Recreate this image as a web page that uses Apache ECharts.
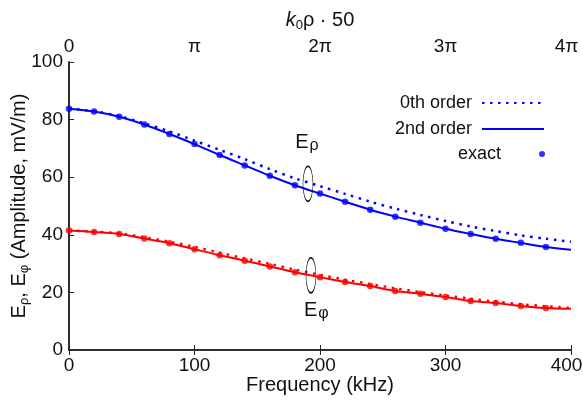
<!DOCTYPE html>
<html>
<head>
<meta charset="utf-8">
<script src="https://cdn.jsdelivr.net/npm/echarts@6/dist/echarts.min.js"></script>
<style>
  html, body { margin: 0; padding: 0; background: #fff; }
  #chart { width: 583px; height: 401px; }
</style>
</head>
<body>
<div id="chart"></div>
<script>
// frequency samples (kHz)
const freq = [0, 20, 40, 60, 80, 100, 120, 140, 160, 180, 200, 220, 240, 260, 280, 300, 320, 340, 360, 380];
const freqLine = [0, 20, 40, 60, 80, 100, 120, 140, 160, 180, 200, 220, 240, 260, 280, 300, 320, 340, 360, 380, 400];

// E rho
const rhoExact = [83.8, 82.8, 81.0, 78.3, 75.0, 71.5, 67.7, 64.1, 60.5, 57.2, 54.3, 51.5, 48.7, 46.3, 44.2, 42.1, 40.3, 38.6, 37.2, 35.8];
const rhoOrder2 = [83.8, 82.8, 81.0, 78.3, 75.0, 71.5, 67.7, 64.1, 60.5, 57.2, 54.3, 51.5, 48.7, 46.3, 44.2, 42.1, 40.3, 38.6, 37.2, 35.8, 34.8];
const rhoOrder0 = [83.8, 82.9, 81.2, 78.7, 75.9, 72.7, 69.5, 66.3, 62.8, 59.6, 56.9, 54.2, 51.5, 49.1, 46.9, 44.8, 42.9, 41.3, 39.8, 38.6, 37.6];

// E phi
const phiExact = [41.5, 41.0, 40.3, 38.7, 37.1, 35.0, 32.9, 31.0, 29.0, 27.0, 25.3, 23.6, 22.2, 20.5, 19.5, 18.4, 17.0, 16.3, 15.3, 14.6];
const phiOrder2 = [41.5, 41.0, 40.3, 38.7, 37.1, 35.0, 32.9, 31.0, 29.0, 27.0, 25.3, 23.6, 22.2, 20.5, 19.5, 18.4, 17.0, 16.3, 15.3, 14.6, 14.3];
const phiOrder0 = [41.5, 41.1, 40.5, 39.1, 37.6, 35.8, 33.8, 31.8, 29.9, 27.9, 26.1, 24.4, 22.9, 21.4, 20.1, 18.9, 17.8, 16.8, 15.9, 15.2, 14.6];

const topTickLabels = ['0', 'π', '2π', '3π', '4π'];

const FONT = '"Liberation Sans", Arial, Helvetica, sans-serif';
const BLUE = '#0000ff';
const RED = '#ff0000';

function pairs(xs, ys) {
    return ys.map((y, i) => [xs[i], y]);
}

// last tick label sits a bit left of its tick so it stays on the page
function edgeLabel(text, v) {
    return v >= 400 ? '{r|' + text + '}' : '{n|' + text + '}';
}

const tickRich = {
    n: { fontFamily: FONT, fontSize: 19, color: '#111' },
    r: { fontFamily: FONT, fontSize: 19, color: '#111', padding: [0, 9, 0, 0] }
};

const ellipsePath = 'path://M0,-1 A1,1 0 1,1 0,1 A1,1 0 1,1 0,-1 Z';

const chart = echarts.init(document.getElementById('chart'));

const legendCommon = {
    orient: 'vertical',
    align: 'right',
    right: 38,
    padding: 0,
    itemWidth: 62,
    itemHeight: 14,
    textStyle: {
        fontFamily: FONT,
        fontSize: 18,
        color: '#111',
        padding: [0, 5, 0, 0]
    }
};

const option = {
    animation: false,
    backgroundColor: '#fff',
    grid: {
        left: 69,
        right: 12,
        top: 62,
        bottom: 51,
        containLabel: false,
        outerBoundsMode: 'none'
    },
    legend: [
        Object.assign({}, legendCommon, { data: [{ name: '0th order', itemStyle: { opacity: 0 } }], top: 94 }),
        Object.assign({}, legendCommon, { data: [{ name: '2nd order', itemStyle: { opacity: 0 } }], top: 120 }),
        Object.assign({}, legendCommon, { data: [{ name: 'exact', icon: 'circle' }], top: 145, itemHeight: 6 })
    ],
    xAxis: [
        {
            type: 'value',
            position: 'bottom',
            min: 0,
            max: 400,
            interval: 100,
            name: 'Frequency (kHz)',
            nameLocation: 'middle',
            nameGap: 25,
            nameMoveOverlap: false,
            nameTextStyle: { fontFamily: FONT, fontSize: 20, color: '#111' },
            axisLine: { lineStyle: { color: '#222', width: 1.5 } },
            axisTick: { inside: true, length: 5, lineStyle: { color: '#222' } },
            axisLabel: {
                margin: 6,
                rich: tickRich,
                formatter: function (v) { return edgeLabel(String(v), v); }
            },
            splitLine: { show: false }
        },
        {
            type: 'value',
            position: 'top',
            min: 0,
            max: 400,
            interval: 100,
            name: '{k|k}{sub|0}{t|ρ · 50}',
            nameLocation: 'middle',
            nameGap: 30,
            nameMoveOverlap: false,
            nameTextStyle: {
                rich: {
                    k: { fontFamily: FONT, fontSize: 20, fontStyle: 'italic', color: '#111' },
                    sub: { fontFamily: FONT, fontSize: 13, color: '#111', verticalAlign: 'bottom', padding: [10, 0, 0, 0] },
                    t: { fontFamily: FONT, fontSize: 20, color: '#111' }
                }
            },
            axisLine: { lineStyle: { color: '#222', width: 1.5 } },
            axisTick: { inside: true, length: 5, lineStyle: { color: '#222' } },
            axisLabel: {
                margin: 6,
                rich: tickRich,
                formatter: function (v) { return edgeLabel(topTickLabels[Math.round(v / 100)], v); }
            },
            splitLine: { show: false }
        }
    ],
    yAxis: [
        {
            type: 'value',
            position: 'left',
            min: 0,
            max: 100,
            interval: 20,
            name: '{t|E}{s|ρ}{t|, E}{s|φ}{t| (Amplitude, mV/m)}',
            nameLocation: 'middle',
            nameGap: 38,
            nameMoveOverlap: false,
            nameTextStyle: {
                rich: {
                    t: { fontFamily: FONT, fontSize: 20, color: '#111' },
                    s: { fontFamily: FONT, fontSize: 13, color: '#111', verticalAlign: 'bottom', padding: [10, 0, 0, 0] }
                }
            },
            axisLine: { show: true, lineStyle: { color: '#222', width: 1.5 } },
            axisTick: { show: true, inside: true, length: 5, lineStyle: { color: '#222' } },
            axisLabel: { margin: 6, fontFamily: FONT, fontSize: 19, color: '#111' },
            splitLine: { show: false }
        },
        {
            type: 'value',
            position: 'right',
            min: 0,
            max: 100,
            axisLine: { show: true, lineStyle: { color: '#222', width: 1.5 } },
            axisTick: { show: false },
            axisLabel: { show: false },
            splitLine: { show: false }
        }
    ],
    series: [
        {
            name: '0th order',
            type: 'line',
            data: pairs(freqLine, rhoOrder0),
            smooth: 0.3,
            symbol: 'none',
            color: BLUE,
            lineStyle: { color: BLUE, width: 2.5, type: [2.5, 5.5] },
            markPoint: {
                silent: true,
                symbol: ellipsePath,
                symbolSize: [10, 35],
                itemStyle: { color: 'rgba(0,0,0,0)', borderColor: '#111', borderWidth: 1 },
                label: { show: false },
                data: [{ coord: [190.4, 57.7] }, { coord: [192.8, 25.9] }]
            }
        },
        {
            name: '2nd order',
            type: 'line',
            data: pairs(freqLine, rhoOrder2),
            smooth: 0.3,
            symbol: 'none',
            color: BLUE,
            lineStyle: { color: BLUE, width: 2 },
            markPoint: {
                silent: true,
                symbol: 'circle',
                symbolSize: 1,
                itemStyle: { color: 'rgba(0,0,0,0)' },
                label: {
                    show: true,
                    position: 'inside',
                    rich: {
                        t: { fontFamily: FONT, fontSize: 20, color: '#111' },
                        s: { fontFamily: FONT, fontSize: 16, color: '#111', verticalAlign: 'bottom', padding: [6, 0, 0, 1] }
                    }
                },
                data: [
                    { coord: [189.6, 72], label: { formatter: '{t|E}{s|ρ}' } },
                    { coord: [197, 13.6], label: { formatter: '{t|E}{s|φ}' } }
                ]
            }
        },
        {
            name: 'exact',
            type: 'scatter',
            data: pairs(freq, rhoExact),
            symbol: 'circle',
            symbolSize: 6.5,
            color: BLUE,
            itemStyle: { color: BLUE }
        },
        {
            name: '0th order',
            type: 'line',
            data: pairs(freqLine, phiOrder0),
            smooth: 0.3,
            symbol: 'none',
            color: RED,
            lineStyle: { color: RED, width: 2.5, type: [2.5, 5.5] }
        },
        {
            name: '2nd order',
            type: 'line',
            data: pairs(freqLine, phiOrder2),
            smooth: 0.3,
            symbol: 'none',
            color: RED,
            lineStyle: { color: RED, width: 2 }
        },
        {
            name: 'exact',
            type: 'scatter',
            data: pairs(freq, phiExact),
            symbol: 'circle',
            symbolSize: 6.5,
            color: RED,
            itemStyle: { color: RED }
        }
    ]
};

chart.setOption(option);
</script>
</body>
</html>
